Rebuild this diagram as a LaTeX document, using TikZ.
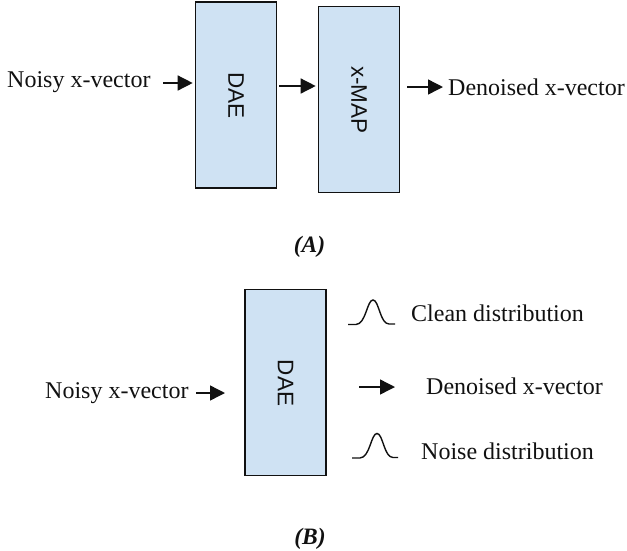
\documentclass[tikz,border=0pt]{standalone}
\usepackage{fontspec}
\setmainfont{Liberation Serif}
\setsansfont{Liberation Sans}
\usetikzlibrary{arrows.meta}
\definecolor{boxfill}{HTML}{CFE2F3}
\definecolor{ink}{HTML}{111111}
\tikzset{
  block/.style={draw=ink,line width=1.6pt,fill=boxfill,inner sep=0pt,minimum width=81pt,minimum height=186pt},
  blocktext/.style={rotate=-90,font=\sffamily\fontsize{22.5}{26}\selectfont,text=ink,inner sep=0pt},
  label/.style={anchor=base west,inner sep=0pt,font=\fontsize{24}{28}\selectfont,text=ink},
  caption/.style={inner sep=0pt,font=\bfseries\itshape\fontsize{23.5}{28}\selectfont,text=ink},
  flow/.style={draw=ink,line width=1.4pt,-{Triangle[length=15pt,width=15pt]}},
  bell/.style={draw=ink,line width=1.4pt}
}
\begin{document}
\begin{tikzpicture}[x=1pt,y=-1pt]
\useasboundingbox (0,0) rectangle (627,550);
% Panel A
\node[block] (daeA) at (236,95) {};
\node[blocktext] (daeAt) at (236,95.5) {DAE};
\node[block] (mapA) at (359,99.5) {};
\node[blocktext] (mapAt) at (359,100) {x-MAP};
\node[label] (noisyA) at (7,87) {Noisy x-vector};
\node[label] (denA) at (448,95) {Denoised x-vector};
\node[caption] (capA) at (309.5,247) {(A)};
\coordinate (inA) at (163,83);
\coordinate (midA) at (279,86);
\coordinate (outA) at (407,87);
\draw[flow,shorten >=2pt] (inA) -- (inA -| daeA.west);
\draw[flow,shorten >=2pt] (midA) -- (midA -| mapA.west);
\draw[flow,shorten >=5pt] (outA) -- (outA -| denA.west);
% Panel B
\node[block] (daeB) at (285.5,382.5) {};
\node[blocktext] (daeBt) at (285.5,383) {DAE};
\node[label] (noisyB) at (45,398) {Noisy x-vector};
\node[label] (clean) at (411,321) {Clean distribution};
\node[label] (denB) at (426,394) {Denoised x-vector};
\node[label] (noise) at (421,459) {Noise distribution};
\node[caption] (capB) at (310,539) {(B)};
\coordinate (inB) at (196,393);
\coordinate (inBend) at (225,393);
\coordinate (outB) at (359,387);
\coordinate (outBend) at (395,387);
\draw[flow] (inB) -- (inBend);
\draw[flow] (outB) -- (outBend);
\draw[bell] (348,324.5) -- (356,324.5) .. controls (366,324) and (367,300) .. (373,300) .. controls (379,300) and (380,324) .. (389,324) -- (395,324);
\draw[bell] (352,458) -- (360,458) .. controls (370,457.5) and (371,433.5) .. (377,433.5) .. controls (383,433.5) and (384,457.5) .. (393,457.5) -- (398,457.5);
\end{tikzpicture}
\end{document}
